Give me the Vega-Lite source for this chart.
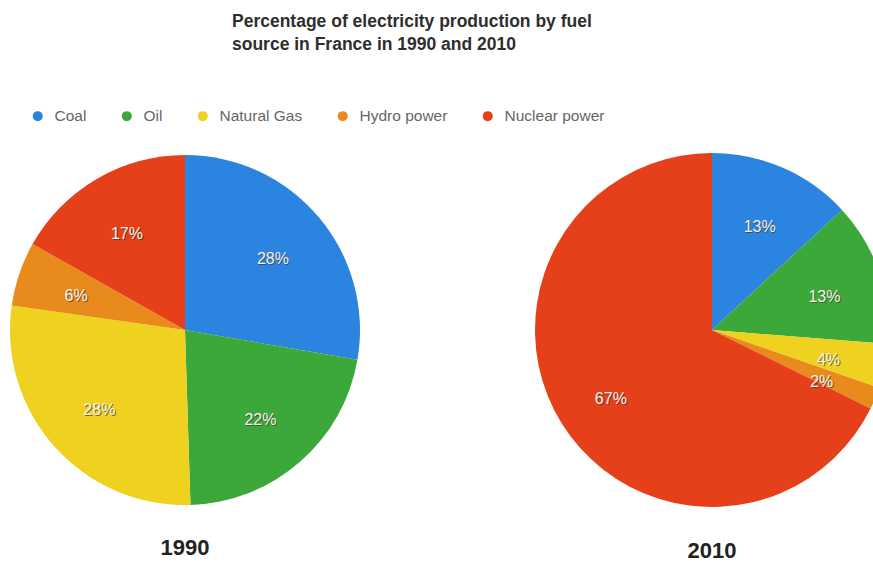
{
  "$schema": "https://vega.github.io/schema/vega-lite/v6.json",
  "padding": {"left": 10, "top": 12, "right": 0, "bottom": 0},
  "background": "white",
  "datasets": {
    "d1990": [
      {"fuel": "Coal", "rank": 1, "percent": 28, "label": "28%"},
      {"fuel": "Oil", "rank": 2, "percent": 22, "label": "22%"},
      {"fuel": "Natural Gas", "rank": 3, "percent": 28, "label": "28%"},
      {"fuel": "Hydro power", "rank": 4, "percent": 6, "label": "6%"},
      {"fuel": "Nuclear power", "rank": 5, "percent": 17, "label": "17%"}
    ],
    "d2010": [
      {"fuel": "Coal", "rank": 1, "percent": 13, "label": "13%"},
      {"fuel": "Oil", "rank": 2, "percent": 13, "label": "13%"},
      {"fuel": "Natural Gas", "rank": 3, "percent": 4, "label": "4%"},
      {"fuel": "Hydro power", "rank": 4, "percent": 2, "label": "2%"},
      {"fuel": "Nuclear power", "rank": 5, "percent": 67, "label": "67%"}
    ]
  },
  "title": {
    "text": ["Percentage of electricity production by fuel", "source in France in 1990 and 2010"],
    "anchor": "start",
    "dx": 222,
    "fontSize": 17.5,
    "fontWeight": "bold",
    "font": "Liberation Sans",
    "color": "#2e2e2e",
    "lineHeight": 23,
    "offset": 35
  },
  "spacing": 175,
  "hconcat": [
    {
      "width": 350,
      "height": 350,
      "data": {"name": "d1990"},
      "title": {"text": "1990", "orient": "bottom", "fontSize": 22, "fontWeight": "bold", "font": "Liberation Sans", "color": "#222222", "offset": 33},
      "encoding": {
        "theta": {"field": "percent", "type": "quantitative", "stack": true},
        "order": {"field": "rank", "type": "quantitative"},
        "color": {
          "field": "fuel", "type": "nominal",
          "scale": {"domain": ["Coal", "Oil", "Natural Gas", "Hydro power", "Nuclear power"], "range": ["#2b84e0", "#3ca83a", "#eed21f", "#e98a1c", "#e6401b"]},
          "legend": {"title": null, "orient": "top", "direction": "horizontal", "symbolType": "circle", "symbolSize": 100, "labelFontSize": 15.5, "labelColor": "#666666", "labelFont": "Liberation Sans", "labelOffset": 9, "columnPadding": 32, "padding": 20, "offset": 8}
        }
      },
      "layer": [
        {"mark": {"type": "arc", "outerRadius": 175}},
        {"mark": {"type": "text", "radius": 115, "fontSize": 16, "font": "Liberation Sans", "dx": 1, "dy": 4, "opacity": 0.7}, "encoding": {"text": {"field": "label"}, "color": {"value": "#4a3a2a"}}},
        {"mark": {"type": "text", "radius": 115, "fontSize": 16, "font": "Liberation Sans", "dy": 3}, "encoding": {"text": {"field": "label"}, "color": {"value": "#f2f2ec"}}}
      ]
    },
    {
      "width": 350,
      "height": 350,
      "data": {"name": "d2010"},
      "title": {"text": "2010", "orient": "bottom", "fontSize": 22, "fontWeight": "bold", "font": "Liberation Sans", "color": "#222222", "offset": 34},
      "encoding": {
        "theta": {"field": "percent", "type": "quantitative", "stack": true},
        "order": {"field": "rank", "type": "quantitative"},
        "color": {
          "field": "fuel", "type": "nominal",
          "scale": {"domain": ["Coal", "Oil", "Natural Gas", "Hydro power", "Nuclear power"], "range": ["#2b84e0", "#3ca83a", "#eed21f", "#e98a1c", "#e6401b"]}
        }
      },
      "layer": [
        {"mark": {"type": "arc", "outerRadius": 177}},
        {"mark": {"type": "text", "radius": 119, "fontSize": 16, "font": "Liberation Sans", "dx": 1, "dy": 7, "opacity": 0.7}, "encoding": {"text": {"field": "label"}, "color": {"value": "#4a3a2a"}}},
        {"mark": {"type": "text", "radius": 119, "fontSize": 16, "font": "Liberation Sans", "dy": 6}, "encoding": {"text": {"field": "label"}, "color": {"value": "#f2f2ec"}}}
      ]
    }
  ],
  "resolve": {"scale": {"color": "shared"}},
  "config": {"view": {"stroke": null}}
}
